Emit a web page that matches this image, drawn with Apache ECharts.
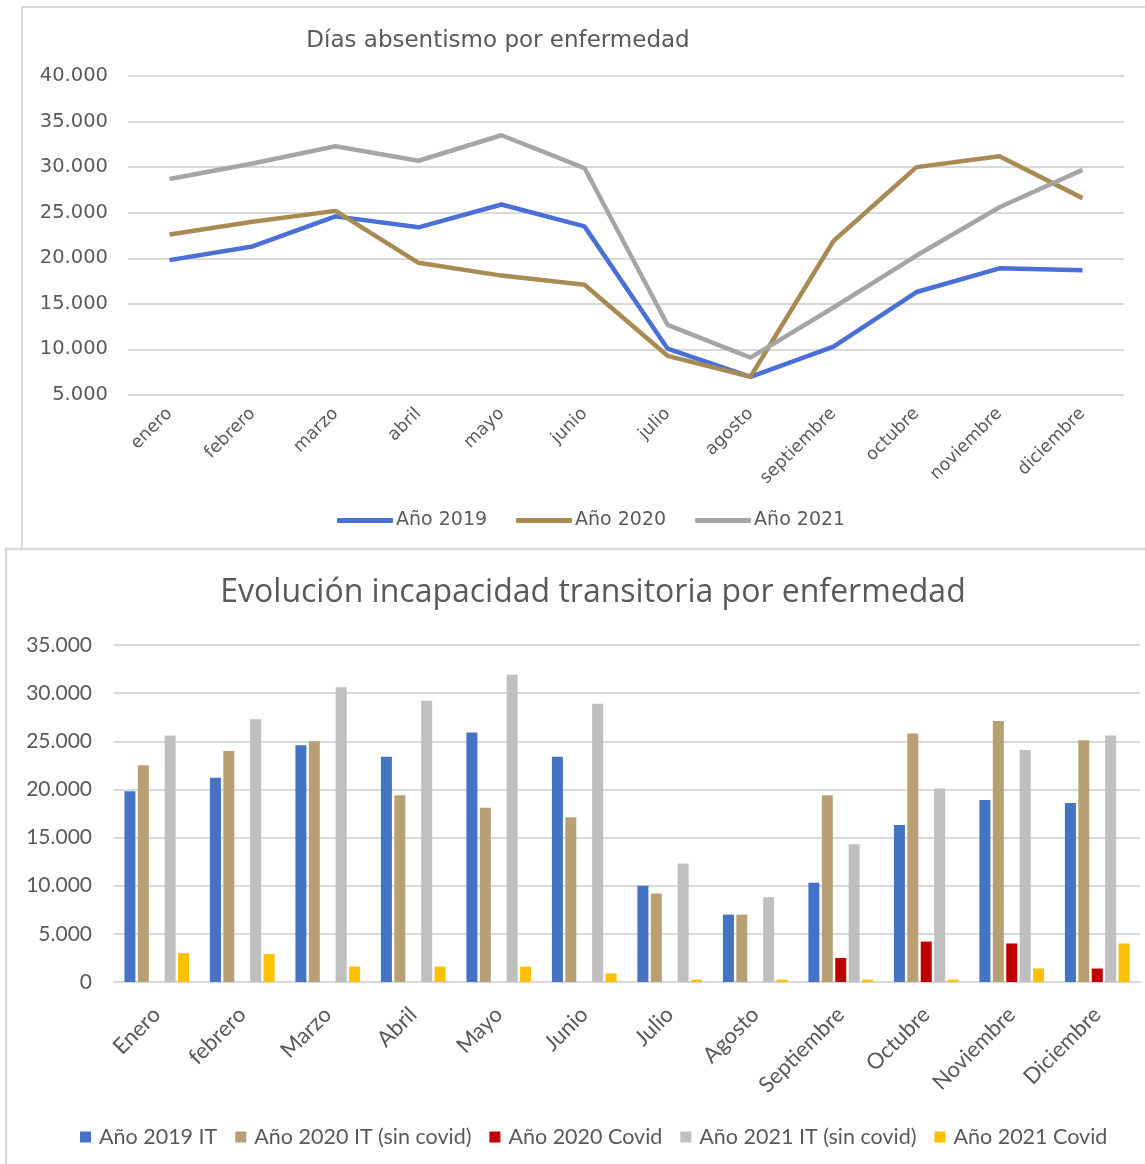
<!DOCTYPE html>
<html>
<head>
<meta charset="utf-8">
<script src="https://cdn.jsdelivr.net/npm/echarts@6/dist/echarts.min.js"></script>
<style>
html,body{margin:0;padding:0;background:#fff;}
#chart{width:1145px;height:1164px;}
</style>
</head>
<body>
<div id="chart"></div>
<script>
// ---- Top chart data (line) ----
var lineMonths = ['enero','febrero','marzo','abril','mayo','junio','julio','agosto','septiembre','octubre','noviembre','diciembre'];
var line2019 = [19800, 21300, 24600, 23400, 25900, 23500, 10100, 7000, 10300, 16300, 18900, 18700];
var line2020 = [22600, 24000, 25200, 19500, 18100, 17100, 9300, 7000, 21900, 30000, 31200, 26600];
var line2021 = [28700, 30400, 32300, 30700, 33500, 29900, 12700, 9100, 14600, 20300, 25600, 29700];
var lineTicks = [5000, 10000, 15000, 20000, 25000, 30000, 35000, 40000];

// ---- Bottom chart data (bars) ----
var barMonths = ['Enero','febrero','Marzo','Abril','Mayo','Junio','Julio','Agosto','Septiembre','Octubre','Noviembre','Diciembre'];
var bar2019IT = [19800, 21200, 24600, 23400, 25900, 23400, 10000, 7000, 10300, 16300, 18900, 18600];
var bar2020IT = [22500, 24000, 25000, 19400, 18100, 17100, 9200, 7000, 19400, 25800, 27100, 25100];
var bar2020Covid = [null, null, null, null, null, null, null, null, 2500, 4200, 4000, 1400];
var bar2021IT = [25600, 27300, 30600, 29200, 31900, 28900, 12300, 8800, 14300, 20100, 24100, 25600];
var bar2021Covid = [3000, 2900, 1600, 1600, 1600, 900, 250, 250, 250, 250, 1400, 4000];
var barTicks = [0, 5000, 10000, 15000, 20000, 25000, 30000, 35000];

function fmt(v){ return String(v).replace(/\B(?=(\d{3})+(?!\d))/g, '.'); }

var txt = '#595959';
var topFont = 'DejaVu Sans';
var botFont = 'Lato';

var chart = echarts.init(document.getElementById('chart'));
chart.setOption({
  animation: false,
  backgroundColor: '#fff',
  graphic: [
    {type:'polyline', shape:{points:[[22,548],[22,7],[1146,7]]}, style:{fill:null, stroke:'#d9d9d9', lineWidth:2}, z:-1},
    {type:'polyline', shape:{points:[[6,1165],[6,549],[1146,549]]}, style:{fill:null, stroke:'#d9d9d9', lineWidth:2.5}, z:-1}
  ],
  title: [
    {text:'Días absentismo por enfermedad', left:493, top:25, textAlign:'center',
     textStyle:{fontFamily:topFont, fontSize:23, fontWeight:'normal', color:txt}},
    {text:'Evolución incapacidad transitoria por enfermedad', left:588, top:572, textAlign:'center',
     textStyle:{fontFamily:'Open Sans', fontSize:32, fontWeight:'normal', color:txt}}
  ],
  legend: [
    {data:['Año 2019','Año 2020','Año 2021'], left:332, top:506, icon:'roundRect',
     itemWidth:56, itemHeight:5, itemGap:29,
     textStyle:{fontFamily:topFont, fontSize:19, color:txt, padding:[0,0,0,-2]}},
    {data:['Año 2019 IT','Año 2020 IT (sin covid)','Año 2020 Covid','Año 2021 IT (sin covid)','Año 2021 Covid'],
     left:75, top:1121, icon:'rect', itemWidth:11, itemHeight:11, itemGap:18,
     textStyle:{fontFamily:botFont, fontSize:21.5, color:txt, padding:[0,0,0,3]}}
  ],
  grid: [
    {left:128, right:21, top:76, bottom:769, containLabel:false},
    {left:114, right:5, top:645, bottom:182, containLabel:false}
  ],
  xAxis: [
    {type:'category', gridIndex:0, data:lineMonths, boundaryGap:true,
     axisLine:{show:false}, axisTick:{show:false},
     axisLabel:{rotate:45, margin:16, fontFamily:topFont, fontSize:17.5, color:txt}},
    {type:'category', gridIndex:1, data:barMonths, boundaryGap:true,
     axisLine:{show:true, lineStyle:{color:'#d9d9d9', width:2}}, axisTick:{show:false},
     axisLabel:{rotate:45, margin:29, fontFamily:botFont, fontSize:22, color:txt}}
  ],
  yAxis: [
    {type:'value', gridIndex:0, min:lineTicks[0], max:lineTicks[lineTicks.length-1], interval:5000,
     axisLine:{show:false}, axisTick:{show:false},
     splitLine:{lineStyle:{color:'#d9d9d9', width:2}},
     axisLabel:{margin:20, fontFamily:topFont, fontSize:19.5, color:txt, formatter:fmt}},
    {type:'value', gridIndex:1, min:barTicks[0], max:barTicks[barTicks.length-1], interval:5000,
     axisLine:{show:false}, axisTick:{show:false},
     splitLine:{lineStyle:{color:'#d9d9d9', width:2}},
     axisLabel:{margin:22, fontFamily:botFont, fontSize:21, color:txt, formatter:fmt}}
  ],
  series: [
    {name:'Año 2019', type:'line', xAxisIndex:0, yAxisIndex:0, data:line2019, showSymbol:false, symbol:'none',
     itemStyle:{color:'#4a6fd6'}, lineStyle:{color:'#4a6fd6', width:4.5}},
    {name:'Año 2020', type:'line', xAxisIndex:0, yAxisIndex:0, data:line2020, showSymbol:false, symbol:'none',
     itemStyle:{color:'#a98a52'}, lineStyle:{color:'#a98a52', width:4.5}},
    {name:'Año 2021', type:'line', xAxisIndex:0, yAxisIndex:0, data:line2021, showSymbol:false, symbol:'none',
     itemStyle:{color:'#a5a5a5'}, lineStyle:{color:'#a5a5a5', width:4.5}},

    {name:'Año 2019 IT', type:'bar', xAxisIndex:1, yAxisIndex:1, data:bar2019IT, barWidth:11, barGap:'22%',
     itemStyle:{color:'#4472c4'}},
    {name:'Año 2020 IT (sin covid)', type:'bar', xAxisIndex:1, yAxisIndex:1, data:bar2020IT, barWidth:11, barGap:'22%',
     itemStyle:{color:'#b8a074'}},
    {name:'Año 2020 Covid', type:'bar', xAxisIndex:1, yAxisIndex:1, data:bar2020Covid, barWidth:11, barGap:'22%',
     itemStyle:{color:'#c00000'}},
    {name:'Año 2021 IT (sin covid)', type:'bar', xAxisIndex:1, yAxisIndex:1, data:bar2021IT, barWidth:11, barGap:'22%',
     itemStyle:{color:'#bfbfbf'}},
    {name:'Año 2021 Covid', type:'bar', xAxisIndex:1, yAxisIndex:1, data:bar2021Covid, barWidth:11, barGap:'22%',
     itemStyle:{color:'#ffc000'}}
  ]
});
</script>
</body>
</html>
